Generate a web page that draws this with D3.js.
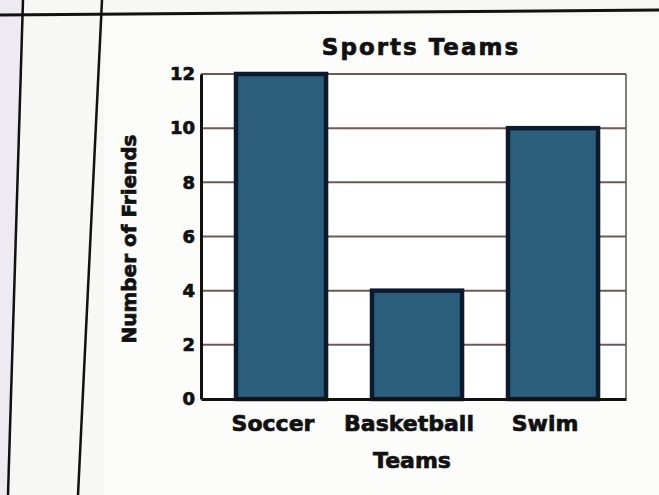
<!DOCTYPE html>
<html><head><meta charset="utf-8">
<script src="https://cdn.jsdelivr.net/npm/d3@7"></script>
<style>
html,body{margin:0;padding:0;background:#f5f5f3;}
svg{display:block;}
text{font-family:"DejaVu Sans","Open Sans",sans-serif;font-weight:700;fill:#111;stroke:#111;stroke-width:0.7px;}
</style></head>
<body>
<svg id="chart" width="659" height="495"></svg>
<script>
const categories = ["Soccer", "Basketball", "Swim"];
const values = [12, 4, 10];
const yTicks = [0, 2, 4, 6, 8, 10, 12];
const title = "Sports Teams";
const xTitle = "Teams";
const yTitle = "Number of Friends";

const svg = d3.select("#chart");
const W = 659, H = 495;

// page decorations (photographed worksheet)
svg.append("rect").attr("x",0).attr("y",0).attr("width",W).attr("height",H).attr("fill","#f7f7f6");
svg.append("path").attr("d","M0,0 L22,0 L8,495 L0,495 Z").attr("fill","#efeaf2");
svg.append("rect").attr("x",104).attr("y",16).attr("width",W-104).attr("height",H-16).attr("fill","#fcfcfb");
svg.append("line").attr("x1",0).attr("y1",15).attr("x2",W).attr("y2",10).attr("stroke","#111").attr("stroke-width",3);
svg.append("line").attr("x1",23).attr("y1",0).attr("x2",8).attr("y2",H).attr("stroke","#111").attr("stroke-width",2.5);
svg.append("line").attr("x1",102).attr("y1",0).attr("x2",78).attr("y2",H).attr("stroke","#111").attr("stroke-width",2.5);

const m = {left: 201, right: 626, top: 74, bottom: 399};

const x = d3.scaleBand().domain(categories).range([m.left, m.right])
  .paddingInner(0.338).paddingOuter(0.2315).align(0.556);
const y = d3.scaleLinear().domain([0, 12]).range([m.bottom, m.top]);

// plot background
svg.append("rect").attr("x",m.left).attr("y",m.top).attr("width",m.right-m.left).attr("height",m.bottom-m.top).attr("fill","#fff");

// gridlines
svg.append("g").selectAll("line").data(yTicks.filter(d=>d>0)).join("line")
  .attr("x1",m.left).attr("x2",m.right)
  .attr("y1",d=>y(d)).attr("y2",d=>y(d))
  .attr("stroke","#6e5a52").attr("stroke-width",2);

// right frame
svg.append("line").attr("x1",m.right).attr("x2",m.right).attr("y1",m.top).attr("y2",m.bottom)
  .attr("stroke","#555").attr("stroke-width",1.5);

// bars
svg.append("g").selectAll("rect").data(values).join("rect")
  .attr("x",(d,i)=>x(categories[i]))
  .attr("width",x.bandwidth())
  .attr("y",d=>y(d))
  .attr("height",d=>y(0)-y(d))
  .attr("fill","#2c5f7c")
  .attr("stroke","#0b1a2e").attr("stroke-width",4.5);

// axes
const yAxis = d3.axisLeft(y).tickValues(yTicks).tickSize(0).tickPadding(6);
const gy = svg.append("g").attr("transform",`translate(${m.left},0)`).call(yAxis);
gy.select(".domain").attr("stroke","#111").attr("stroke-width",3);
gy.selectAll("text").style("font-size","18px").style("font-family","DejaVu Sans").style("font-weight","700").attr("fill","#111");

const xAxis = d3.axisBottom(x).tickSize(0).tickPadding(16);
const gx = svg.append("g").attr("transform",`translate(0,${m.bottom})`).call(xAxis);
gx.select(".domain").attr("stroke","#111").attr("stroke-width",3);
gx.selectAll("text").attr("dx","-8").style("font-size","22px").style("font-family","DejaVu Sans").style("font-weight","700").attr("fill","#111");

// titles
svg.append("text").attr("x",421).attr("y",55).attr("text-anchor","middle")
  .style("font-size","23px").style("letter-spacing","2px").text(title);
svg.append("text").attr("x",412).attr("y",468).attr("text-anchor","middle")
  .style("font-size","22px").text(xTitle);
svg.append("text").attr("transform",`translate(136,239) rotate(-90)`)
  .attr("text-anchor","middle").style("font-size","20px").text(yTitle);
</script>
</body></html>
